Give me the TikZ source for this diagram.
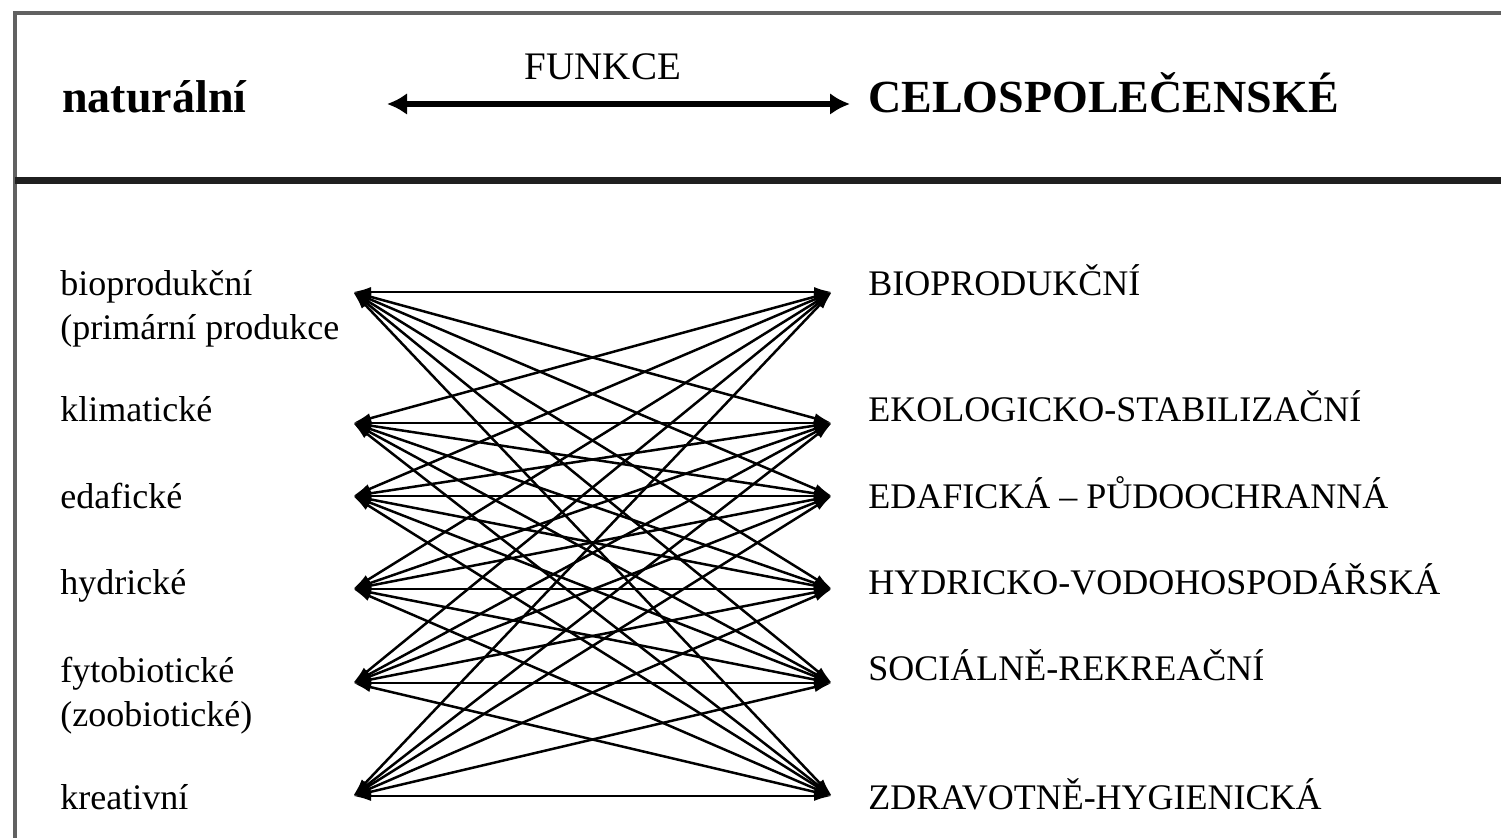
\documentclass[tikz,border=0pt]{standalone}
\usepackage{fontspec}
\setmainfont{Liberation Serif}
\usetikzlibrary{arrows.meta}

\colorlet{frame edge}{black!62}
\colorlet{frame rule}{black!88}
\def\labelfont{\fontsize{18}{22}\selectfont}
\def\headfont{\fontsize{23}{27}\selectfont\bfseries}
\tikzset{leftlabel/.style={anchor=base west, inner sep=0pt, align=left, font=\labelfont},
    rightlabel/.style={anchor=base west, inner sep=0pt, font=\labelfont},
    headlabel/.style={anchor=base west, inner sep=0pt, font=\headfont},
    link/.style={line width=1.25pt, {Latex[length=9pt,width=5pt]}-{Latex[length=9pt,width=5pt]}},
    headarrow/.style={line width=3pt, {Latex[length=10pt,width=11pt]}-{Latex[length=10pt,width=11pt]}}}

\begin{document}
\begin{tikzpicture}[x=0.5pt, y=-0.5pt]
    \useasboundingbox (0,0) rectangle (1501,838);
    % frame
    \draw[frame edge, line width=2pt] (15,838) -- (15,13) -- (1501,13);
    \draw[frame rule, line width=3.5pt] (15,181) -- (1501,181);

    % header
    \node[headlabel] (natural) at (62,113) {naturální};
    \node[headlabel] (celo) at (868,113) {CELOSPOLEČENSKÉ};
    \node[anchor=base, inner sep=0pt, font=\fontsize{19.5}{22}\selectfont] (funkce) at (603,80) {FUNKCE};
    \coordinate (hl) at (387,104);
    \coordinate (hr) at (850,104);
    \draw[headarrow] (hl) -- (hr);

    % end points of the links
    \foreach \n/\y in {1/292, 2/423, 3/496, 4/589, 5/683, 6/796} {
        \coordinate (L\n) at (353,\y);
        \coordinate (R\n) at (832,\y);
    }
    \foreach \i in {1,...,6}
        \foreach \j in {1,...,6}
            \draw[link] (L\i) -- (R\j);

    % left column
    \node[leftlabel] (nbio) at (60,340) {bioprodukční\\(primární produkce};
    \node[leftlabel] (nklima) at (60,422) {klimatické};
    \node[leftlabel] (nedaf) at (60,509) {edafické};
    \node[leftlabel] (nhydr) at (60,595) {hydrické};
    \node[leftlabel] (nfyto) at (60,727) {fytobiotické\\(zoobiotické)};
    \node[leftlabel] (nkrea) at (60,810) {kreativní};

    % right column
    \node[rightlabel] (cbio) at (868,296) {BIOPRODUKČNÍ};
    \node[rightlabel] (ceko) at (868,422) {EKOLOGICKO-STABILIZAČNÍ};
    \node[rightlabel] (cedaf) at (868,509) {EDAFICKÁ – PŮDOOCHRANNÁ};
    \node[rightlabel] (chydr) at (868,595) {HYDRICKO-VODOHOSPODÁŘSKÁ};
    \node[rightlabel] (csoc) at (868,681) {SOCIÁLNĚ-REKREAČNÍ};
    \node[rightlabel] (czdr) at (868,810) {ZDRAVOTNĚ-HYGIENICKÁ};
\end{tikzpicture}
\end{document}
